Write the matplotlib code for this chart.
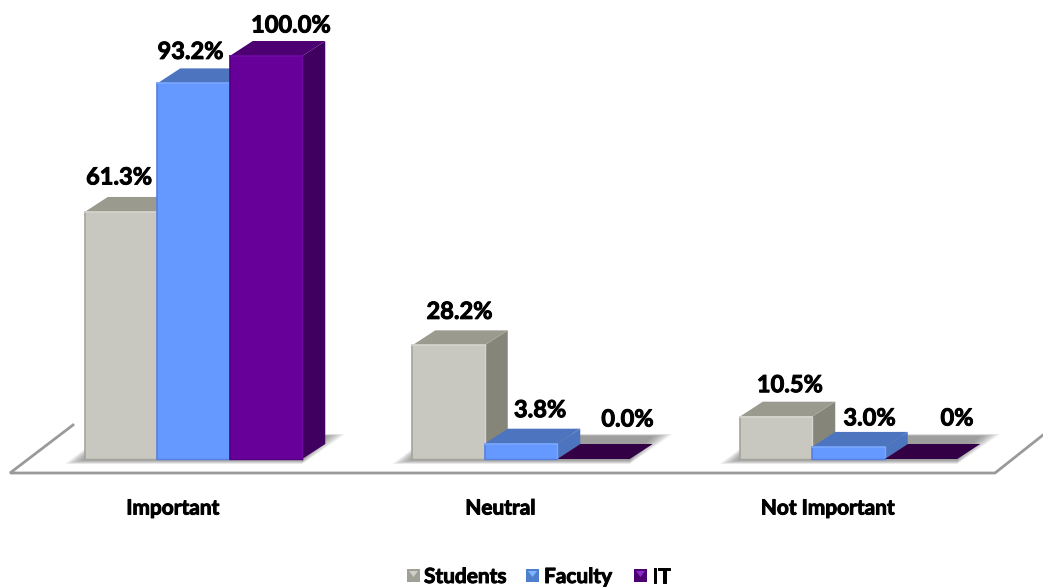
import numpy as np
from matplotlib import pyplot as plt
from matplotlib import patheffects as pe
from matplotlib.patches import Polygon, Rectangle

categories = ["Important", "Neutral", "Not Important"]
series_names = ["Students", "Faculty", "IT"]
students = [61.3, 28.2, 10.5]
faculty = [93.2, 3.8, 3.0]
it = [100.0, 0.0, 0.0]
value_labels = [["61.3%", "28.2%", "10.5%"], ["93.2%", "3.8%", "3.0%"], ["100.0%", "0.0%", "0%"]]

# label nudges in pixels, (dx from bar centre, gap above back edge of the top)
label_dx = [[-2, 11, 14], [-3, 19, 21], [25, 34, 36]]
label_gap = [[20, 19, 17], [17, 19, 14], [16, 25, 26]]

front = ["#C8C8C0", "#6699FF", "#660099"]
top = ["#9A9A8E", "#4D74BF", "#4C0072"]
side = ["#85857A", "#4D74BF", "#3F0060"]
flat = ["#9A9A8E", "#4D74BF", "#330046"]
edge_dark = ["#A4A49A", "#5580DD", "#550080"]
edge_light = ["#D6D6CE", "#7AA8FF", "#6E0AA3"]
legend_base = ["#A0A096", "#4D7FCC", "#4C0072"]
legend_glow = ["#D0D0C8", "#7FB4FF", "#8A2BC8"]

plt.rcParams['font.family'] = ['Lato', 'DejaVu Sans']

W, H = 1043, 588
PX_Y = 4.03        # pixels per percent
PX_X = 327.5       # pixels per category
BASE = 459         # pixel row of the bars' foot
X0 = 193.5         # pixel column of first group centre
bar_w = 72.5 / PX_X
dep_x = 23 / PX_X
dep_y = 15 / PX_Y

fig = plt.figure(figsize=(W / 100, H / 100), dpi=100)
ax = fig.add_axes([0, 0, 1, 1])
ax.set_xlim(-X0 / PX_X, (W - X0) / PX_X)
ax.set_ylim(-(H - BASE) / PX_Y, BASE / PX_Y)
ax.axis("off")

dx1 = 1 / PX_X
dy1 = 1 / PX_Y
heavy = [pe.withStroke(linewidth=0.7, foreground="black")]

# floor outline
floor_x = np.array([73, 10, 995, 1043])
floor_y = np.array([425, 473, 473, 435])
ax.plot((floor_x - X0) / PX_X, (BASE - floor_y) / PX_Y, color="#9A9A9A", lw=2, zorder=1,
        solid_joinstyle="miter")

# soft shadow on the floor behind each group
for i in range(len(categories)):
    left = i - 1.5 * bar_w
    right = i + 1.5 * bar_w
    for k in range(11):
        g = 20 - k * 2
        shape = [(left - g * dx1, -(1 + g * 0.2) * dy1),
                 (right, -(1 + g * 0.2) * dy1),
                 (right + (23 + g) * dx1, (23 + g * 0.1) * dy1),
                 (left + 20 * dx1, (23 + g * 0.1) * dy1)]
        ax.add_patch(Polygon(shape, closed=True, fc="#555555", ec="none", alpha=0.07, zorder=2))

for j, vals in enumerate([students, faculty, it]):
    for i, v in enumerate(vals):
        x = i + (j - 1.5) * bar_w
        x2 = x + bar_w
        if v == 0:
            ax.add_patch(Polygon([(x, 0), (x2, 0), (x2 + dep_x, dep_y), (x + dep_x, dep_y)],
                                 closed=True, fc=flat[j], ec="none", zorder=4 + i))
        else:
            ax.add_patch(Polygon([(x2, 0), (x2 + dep_x, dep_y), (x2 + dep_x, v + dep_y), (x2, v)],
                                 closed=True, fc=side[j], ec="none", zorder=4 + j))
            ax.add_patch(Polygon([(x, v), (x2, v), (x2 + dep_x, v + dep_y), (x + dep_x, v + dep_y)],
                                 closed=True, fc=top[j], ec="none", zorder=4 + j))
            ax.add_patch(Rectangle((x, 0), bar_w, v, fc=front[j], ec="none", zorder=4 + j))
            # bevel round the front face
            ax.plot([x, x], [0, v], color=edge_dark[j], lw=1.2, zorder=5 + j)
            ax.plot([x2, x2], [0, v], color=edge_light[j], lw=1.0, zorder=5 + j)
            ax.plot([x, x2], [v, v], color=edge_light[j], lw=1.2, zorder=5 + j)
            ax.plot([x, x2], [0, 0], color=edge_dark[j], lw=1.0, zorder=5 + j)
        ax.annotate(value_labels[j][i], (x + bar_w / 2, v + dep_y),
                    xytext=(label_dx[j][i] * 0.72, label_gap[j][i] * 0.72), textcoords="offset points",
                    ha="center", va="center", fontsize=17, fontweight="bold", color="black", zorder=20,
                    path_effects=heavy)

for i, name in enumerate(categories):
    ax.annotate(name, (i, 0), xytext=(-20.5 * 0.72, -49.5 * 0.72), textcoords="offset points",
                ha="center", va="center", fontsize=15, fontweight="bold", color="black",
                path_effects=heavy)

# legend along the bottom
legend_sq = [407, 526, 634]
legend_txt = [424, 544, 652]
for j, name in enumerate(series_names):
    sq_x = (legend_sq[j] - X0) / PX_X
    sq_y = (BASE - 582) / PX_Y
    ax.add_patch(Rectangle((sq_x, sq_y), 13 / PX_X, 13 / PX_Y, fc=legend_base[j], ec="none", zorder=10))
    ax.add_patch(Polygon([(sq_x + 2 * dx1, sq_y + 11 * dy1), (sq_x + 11 * dx1, sq_y + 11 * dy1),
                          (sq_x + 6.5 * dx1, sq_y + 5 * dy1)],
                         closed=True, fc=legend_glow[j], ec="none", zorder=11))
    ax.text((legend_txt[j] - X0) / PX_X, (BASE - 577) / PX_Y, name, ha="left", va="center",
            fontsize=15, fontweight="bold", color="black", path_effects=heavy)

plt.savefig("out.png", dpi=100)
